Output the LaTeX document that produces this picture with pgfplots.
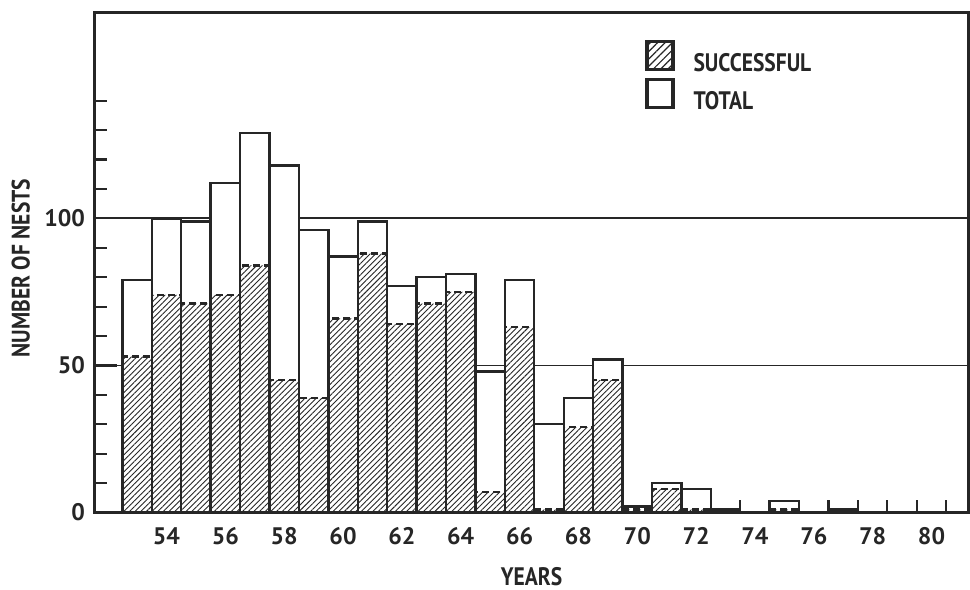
\documentclass[border=0pt]{standalone}
\usepackage{fontspec}
\setmainfont{PT Sans}[FakeStretch=0.85]
\newfontfamily\numfont{PT Sans}
\usepackage{pgfplots}
\usepackage{pgfplotstable}
\pgfplotsset{compat=1.18}
\usetikzlibrary{patterns.meta}
\definecolor{ink}{HTML}{262626}

% nests per year: total and successful
\pgfplotstableread{
year total succ
53 79 53
54 100 74
55 99 71
56 112 74
57 129 84
58 118 45
59 96 39
60 87 66
61 99 88
62 77 64
63 80 71
64 81 75
65 48 7
66 79 63
67 30 1
68 39 29
69 52 45
70 2 1
71 10 8
72 8 1
73 1 0
74 0 0
75 4 1
76 0 0
77 1 0
78 0 0
79 0 0
80 0 0
}\nests

\begin{document}
\begin{tikzpicture}
\path[use as bounding box] (-47.5bp,-38.75bp) rectangle (437.5bp,256.25bp);
\begin{axis}[
    at={(0,0)}, anchor=south west,
    scale only axis,
    width=436.5bp, height=250bp,
    xmin=51.57, xmax=81.24,
    ymin=0, ymax=170,
    axis line style={ink, line width=1.5bp},
    xtick={54,56,...,80},
    minor xtick={52.5,53.5,...,80.5},
    major x tick style={draw=none},
    ytick={0,50,100},
    minor ytick={10,20,30,40,60,70,80,90,110,120,130,140},
    xtick pos=bottom, ytick pos=left,
    tick align=inside,
    major tick length=11bp, minor tick length=6bp,
    every tick/.style={ink, line width=1.1bp},
    ymajorgrids,
    major grid style={ink, line width=0.9bp},
    /pgf/number format/assume math mode=true,
    ticklabel style={font=\numfont\bfseries\fontsize{12}{14}\selectfont, text=ink},
    xticklabel style={yshift=-4bp},
    yticklabel style={xshift=-1.5bp},
    xlabel={YEARS},
    ylabel={NUMBER OF NESTS},
    label style={font=\bfseries\fontsize{12.7}{15}\selectfont, text=ink},
    xlabel style={at={(axis description cs:0.5,-0.129)}, anchor=center, inner sep=0pt},
    ylabel style={at={(axis description cs:-0.085,0.489)}, anchor=center},
    legend style={at={(0.63,0.944)}, anchor=north west, draw=none, fill=none,
        font=\bfseries\fontsize{12.7}{15}\selectfont, text=ink,
        row sep=0bp, inner sep=0pt,
        /tikz/every odd column/.append style={column sep=7.5bp}},
    legend cell align=left,
]
\addplot[ybar, bar width=1, bar shift=0, draw=ink, line width=1.2bp,
    fill=white, forget plot] table[x=year, y=total] {\nests};
\addplot[ybar, bar width=1, bar shift=0, draw=ink, line width=1.2bp,
    dash pattern=on 3.5bp off 2bp,
    pattern={Lines[angle=45, distance=2bp, line width=0.45bp]},
    pattern color=ink, forget plot] table[x=year, y=succ] {\nests};

\addlegendimage{legend image code/.code={
    \draw[ink, line width=1.6bp, pattern={Lines[angle=45, distance=2.6bp, line width=0.6bp]}, pattern color=ink]
        (0bp,-3bp) rectangle (13bp,11bp);}}
\addlegendentry{SUCCESSFUL}
\addlegendimage{legend image code/.code={
    \draw[ink, line width=1.6bp] (0bp,-3bp) rectangle (13bp,11bp);}}
\addlegendentry{TOTAL}
\end{axis}
\end{tikzpicture}
\end{document}
